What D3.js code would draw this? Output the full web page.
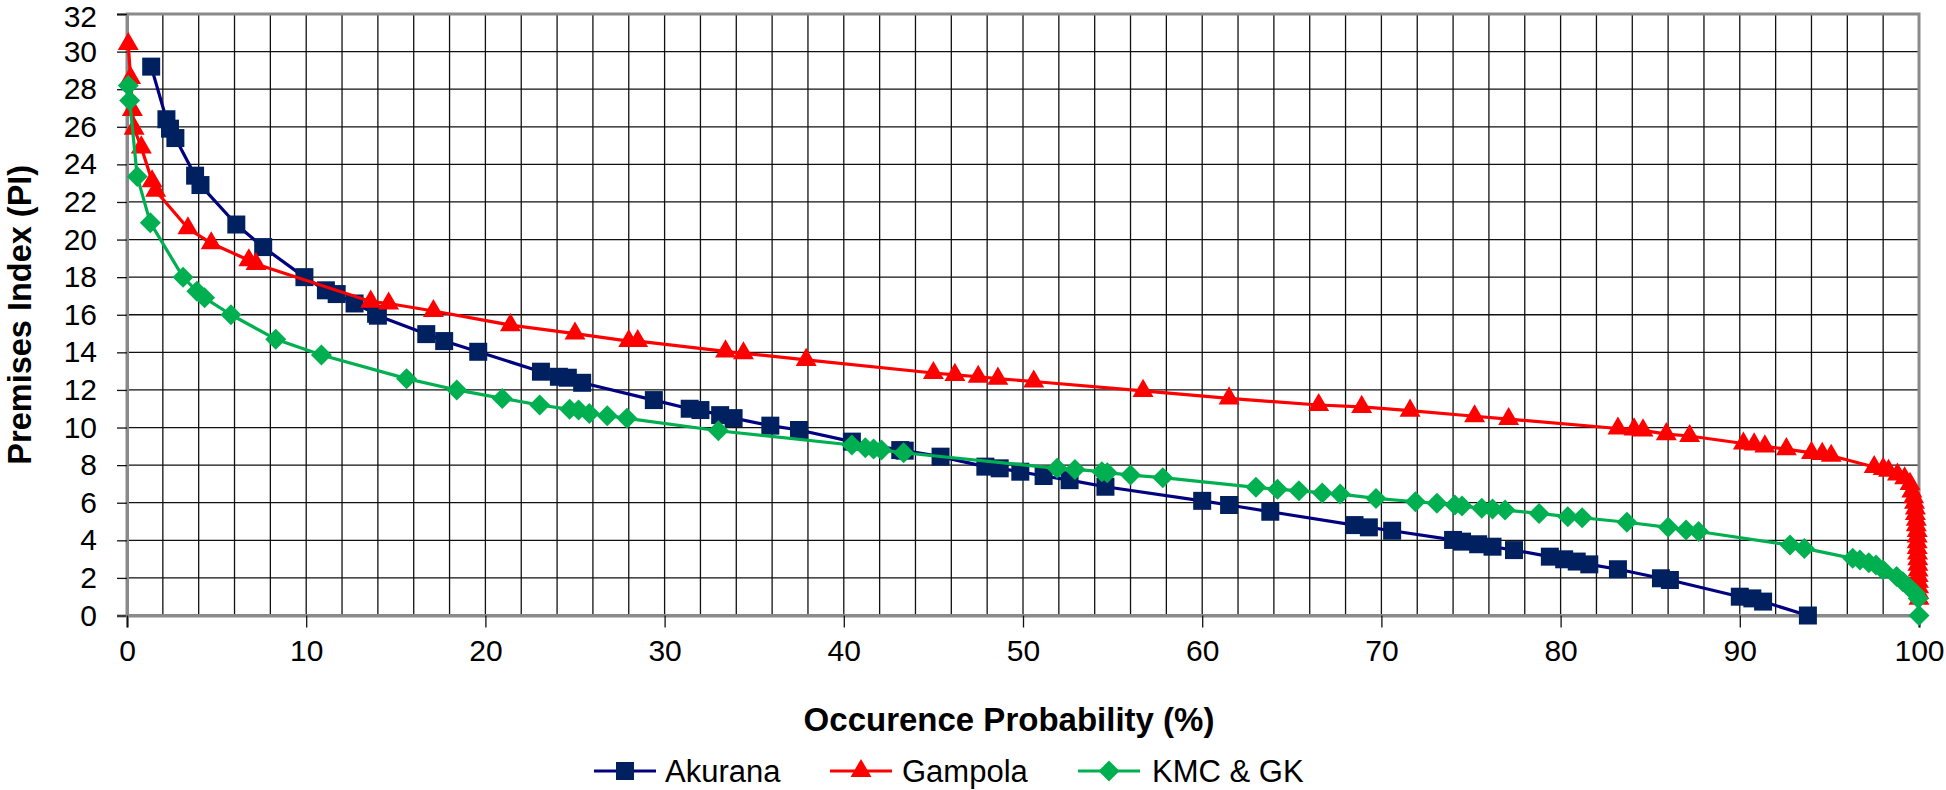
<!DOCTYPE html>
<html>
<head>
<meta charset="utf-8">
<script src="https://cdn.jsdelivr.net/npm/d3@7"></script>
<style>
  html, body { margin: 0; padding: 0; background: #fff; }
  svg { display: block; }
  text { font-family: Arial, "Liberation Sans", sans-serif; }
</style>
</head>
<body>
<svg id="chart" width="1946" height="790"></svg>
<script>
// ---------------- data ----------------
const seriesNames = ["Akurana", "Gampola", "KMC & GK"];

const akurana = [
  [1.35,29.2],[2.2,26.4],[2.4,25.9],[2.7,25.4],[3.8,23.4],[4.1,22.9],[6.1,20.8],[7.6,19.6],
  [9.9,18.0],[11.1,17.3],[11.7,17.1],[12.7,16.6],[13.9,16.05],[14.0,15.95],[16.7,14.97],[17.7,14.6],
  [19.6,14.03],[23.1,12.97],[24.1,12.7],[24.6,12.65],[25.4,12.38],[29.4,11.46],[31.4,11.0],[32.0,10.93],
  [33.1,10.66],[33.85,10.5],[35.9,10.1],[37.5,9.87],[40.45,9.25],[43.15,8.8],[43.4,8.77],[45.4,8.45],
  [47.9,7.92],[48.7,7.83],[49.85,7.65],[51.15,7.42],[52.6,7.2],[54.6,6.85],[60.0,6.1],[61.5,5.88],
  [63.8,5.52],[68.5,4.81],[69.3,4.69],[70.6,4.51],[74.0,4.02],[74.5,3.93],[75.4,3.79],[76.2,3.66],
  [77.4,3.48],[79.4,3.13],[80.2,2.99],[80.9,2.87],[81.6,2.72],[83.2,2.46],[85.6,1.98],[86.1,1.89],
  [90.0,1.0],[90.7,0.91],[91.3,0.74],[93.8,0.0]
];

const gampola = [
  [0.07,30.4],[0.2,28.6],[0.3,26.9],[0.4,25.9],[0.8,24.9],[1.4,23.1],[1.6,22.6],[3.4,20.6],
  [4.7,19.8],[6.8,18.9],[7.2,18.7],[13.6,16.7],[14.6,16.6],[17.1,16.2],[21.4,15.45],[25.0,15.0],
  [28.0,14.6],[28.5,14.6],[33.4,14.05],[34.4,13.95],[37.9,13.6],[45.0,12.9],[46.2,12.8],[47.5,12.7],
  [48.6,12.6],[50.6,12.45],[56.7,11.95],[61.5,11.55],[66.5,11.2],[68.9,11.1],[71.6,10.9],[75.2,10.6],
  [77.1,10.45],[83.2,9.95],[84.1,9.9],[84.6,9.85],[85.9,9.65],[87.2,9.55],[90.2,9.15],[90.8,9.1],
  [91.4,9.0],[92.6,8.85],[94.0,8.65],[94.6,8.6],[95.1,8.5],[97.5,7.9],[98.0,7.8],[98.3,7.7],
  [98.8,7.5],[99.2,7.3],[99.5,7.0],[99.6,6.6],[99.7,6.3],[99.75,6.0],[99.8,5.7],[99.8,5.4],
  [99.85,5.1],[99.85,4.8],[99.9,4.5],[99.9,4.2],[99.9,3.9],[99.9,3.6],[99.92,3.3],[99.93,3.0],
  [99.94,2.7],[99.95,2.4],[99.96,2.1],[99.97,1.8],[99.98,1.5],[99.99,1.2],[100,0.9]
];

const kmcGk = [
  [0.07,28.2],[0.15,27.4],[0.57,23.35],[1.3,20.9],[3.13,18.0],[3.9,17.25],[4.33,16.9],[5.8,16.0],
  [8.3,14.7],[10.85,13.86],[15.6,12.6],[18.4,12.0],[20.94,11.55],[23.03,11.2],[24.7,10.97],[25.2,10.93],
  [25.8,10.75],[26.8,10.63],[27.9,10.49],[33.0,9.83],[40.45,9.07],[41.2,8.93],[41.66,8.86],[42.1,8.8],
  [43.34,8.66],[51.9,7.83],[52.9,7.77],[54.4,7.65],[54.7,7.6],[56.0,7.47],[57.8,7.33],[63.0,6.82],
  [64.2,6.71],[65.4,6.64],[66.7,6.52],[67.7,6.46],[69.7,6.23],[71.9,6.05],[73.1,5.97],[74.1,5.88],
  [74.5,5.83],[75.6,5.7],[76.2,5.67],[76.9,5.61],[78.8,5.43],[80.4,5.26],[81.2,5.2],[83.7,4.96],
  [86.0,4.69],[87.0,4.55],[87.7,4.47],[92.8,3.75],[93.6,3.57],[96.3,3.04],[96.7,2.95],[97.2,2.81],
  [97.6,2.69],[98.0,2.42],[98.75,2.07],[99.1,1.8],[99.5,1.45],[99.8,1.18],[99.96,0.91],[100,0.0]
];

const xTicks = [0,10,20,30,40,50,60,70,80,90,100];
const yTicks = [0,2,4,6,8,10,12,14,16,18,20,22,24,26,28,30,32];
const xTitle = "Occurence Probability (%)";
const yTitle = "Premises Index (PI)";

// ---------------- layout ----------------
const W = 1946, H = 790;
const m = { left: 127, right: 27, top: 14, bottom: 174.5 };
const pw = W - m.left - m.right, ph = H - m.top - m.bottom;

const svg = d3.select("#chart");
const x = d3.scaleLinear().domain([0,100]).range([m.left, m.left + pw]);
const y = d3.scaleLinear().domain([0,32]).range([m.top + ph, m.top]);

// grid
const grid = svg.append("g");
grid.selectAll("line.vx").data(d3.range(0,101,2)).join("line")
  .attr("x1", d => x(d)).attr("x2", d => x(d))
  .attr("y1", y(0)).attr("y2", y(32))
  .attr("stroke", "#111").attr("stroke-width", 1.3);
grid.selectAll("line.hy").data(d3.range(0,33,2)).join("line")
  .attr("x1", x(0)).attr("x2", x(100))
  .attr("y1", d => y(d)).attr("y2", d => y(d))
  .attr("stroke", "#111").attr("stroke-width", 1.3);

// border
svg.append("rect").attr("x", x(0)).attr("y", y(32))
  .attr("width", pw).attr("height", ph)
  .attr("fill", "none").attr("stroke", "#8a8a8a").attr("stroke-width", 3);

// axes
const yAxis = d3.axisLeft(y).tickValues(yTicks).tickSize(10).tickPadding(20);
const xAxis = d3.axisBottom(x).tickValues(xTicks).tickSize(12).tickPadding(12);
const gy = svg.append("g").attr("transform", `translate(${x(0)},0)`).call(yAxis);
const gx = svg.append("g").attr("transform", `translate(0,${y(0)})`).call(xAxis);
[gy, gx].forEach(g => {
  g.select(".domain").attr("stroke", "#8a8a8a").attr("stroke-width", 3);
  g.selectAll(".tick line").attr("stroke", "#111").attr("stroke-width", 1.3);
  g.selectAll(".tick text").attr("fill", "#000")
    .style("font-family", "Arial, 'Liberation Sans', sans-serif").style("font-size", "30px");
});
// keep the top label fully inside the picture
gy.selectAll(".tick text").filter(d => d === 32).attr("dy", "0.42em");

// titles
svg.append("text").attr("x", x(50) - 14).attr("y", 731)
  .attr("text-anchor", "middle").style("font-size", "33px").style("font-weight", "bold")
  .text(xTitle);
svg.append("text").attr("transform", `translate(31,${(y(0)+y(32))/2}) rotate(-90)`)
  .attr("text-anchor", "middle").style("font-size", "32.5px").style("font-weight", "bold")
  .text(yTitle);

// markers
const diamondPath = s => `M0,${-s}L${s},0L0,${s}L${-s},0Z`;
const series = [
  { name: seriesNames[0], data: akurana, line: "#000080", fill: "#002060",
    sym: () => d3.symbol().type(d3.symbolSquare).size(18*18)() },
  { name: seriesNames[1], data: gampola, line: "#ff0000", fill: "#ff0000",
    sym: () => d3.symbol().type(d3.symbolTriangle).size(190)() },
  { name: seriesNames[2], data: kmcGk, line: "#00b050", fill: "#00b050",
    sym: () => diamondPath(10.5) }
];

const lineGen = d3.line().x(d => x(d[0])).y(d => y(d[1]));
series.forEach(s => {
  const g = svg.append("g");
  g.append("path").datum(s.data).attr("d", lineGen)
    .attr("fill", "none").attr("stroke", s.line).attr("stroke-width", 3.2)
    .attr("stroke-linejoin", "round");
  g.selectAll("path.mk").data(s.data).join("path").attr("class", "mk")
    .attr("transform", d => `translate(${x(d[0])},${y(d[1])})`)
    .attr("d", s.sym()).attr("fill", s.fill);
});

// legend
const legendItems = [
  { s: series[0], x0: 594, tx: 665 },
  { s: series[1], x0: 830, tx: 902 },
  { s: series[2], x0: 1078, tx: 1152 }
];
const ly = 771;
legendItems.forEach(it => {
  const g = svg.append("g");
  g.append("line").attr("x1", it.x0).attr("x2", it.x0 + 62).attr("y1", ly).attr("y2", ly)
    .attr("stroke", it.s.line).attr("stroke-width", 3.2);
  g.append("path").attr("transform", `translate(${it.x0 + 31},${ly})`)
    .attr("d", it.s.sym()).attr("fill", it.s.fill);
  g.append("text").attr("x", it.tx).attr("y", ly + 11)
    .style("font-size", "31px").text(it.s.name);
});
</script>
</body>
</html>
